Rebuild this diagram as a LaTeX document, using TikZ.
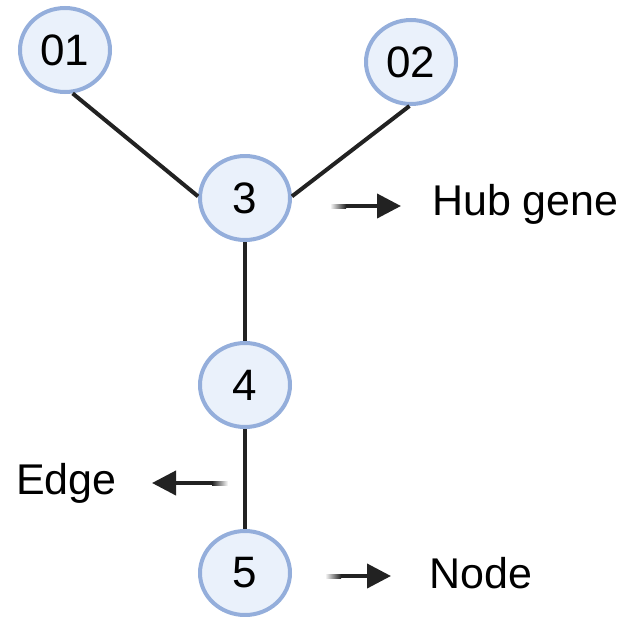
\documentclass[tikz,border=0pt]{standalone}
\usepackage{fontspec}
\setmainfont{Liberation Sans}
\usetikzlibrary{arrows.meta,shapes.geometric}
\definecolor{nodefill}{HTML}{EAF1FB}
\definecolor{nodeline}{HTML}{94AEDB}
\definecolor{ink}{HTML}{222222}
\begin{document}
\begin{tikzpicture}[x=1pt,y=-1pt,
  gene/.style={ellipse, draw=nodeline, fill=nodefill, line width=4pt,
    minimum width=90pt, minimum height=84pt, inner sep=0pt,
    font=\fontsize{44}{44}\selectfont},
  link/.style={draw=ink, line width=4pt},
  pointer/.style={draw=ink, line width=4pt, -{Triangle[length=24pt,width=24pt]}},
  note/.style={anchor=west, inner sep=0pt, font=\fontsize{43}{43}\selectfont}]
\useasboundingbox (0,0) rectangle (626,616);

% network nodes
\node[gene] (n1) at (65,50) {01};
\node[gene] (n2) at (411,62) {02};
\node[gene] (n3) at (245,198) {3};
\node[gene] (n4) at (245,385) {4};
\node[gene] (n5) at (245,573) {5};

% edges
\draw[link] (n1.-80) -- (n3.178);
\draw[link] (n2.-92) -- (n3.2);
\draw[link] (n3.south) -- (n4.north);
\draw[link] (n4.south) -- (n5.north);

% labels
\node[note] (hub) at (432,204) {Hub gene};
\node[note] (edge) at (16,483) {Edge};
\node[note] (node) at (429,573) {Node};

% annotation arrows with faded tails
\coordinate (h1) at (346,206); \coordinate (h2) at (401,206);
\shade[left color=white, right color=ink] (330,204) rectangle (346,208);
\draw[pointer] (h1) -- (h2);

\coordinate (e1) at (212,483); \coordinate (e2) at (152,483);
\shade[left color=ink, right color=white] (212,481) rectangle (228,485);
\draw[pointer] (e1) -- (e2);

\coordinate (d1) at (341,576); \coordinate (d2) at (391,576);
\shade[left color=white, right color=ink] (325,574) rectangle (341,578);
\draw[pointer] (d1) -- (d2);
\end{tikzpicture}
\end{document}
